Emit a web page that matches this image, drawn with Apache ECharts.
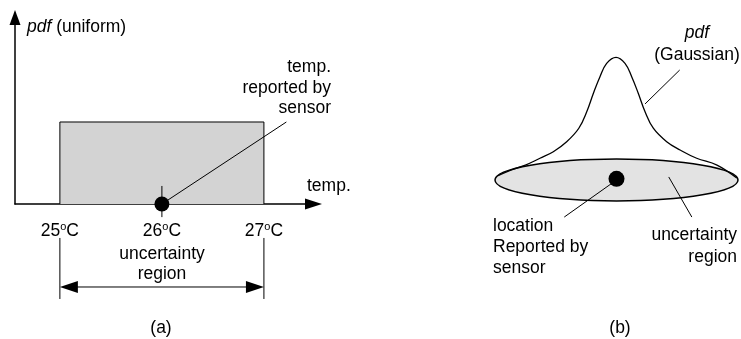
<!DOCTYPE html>
<html>
<head>
<meta charset="utf-8">
<script src="https://cdn.jsdelivr.net/npm/echarts@6/dist/echarts.min.js"></script>
<style>
  html, body { margin: 0; padding: 0; background: #fff; }
  #chart { width: 741px; height: 339px; }
</style>
</head>
<body>
<div id="chart"></div>
<script>
// ---- (a) uniform pdf over a 1-D temperature uncertainty region ----
const tempTicks = [25, 26, 27];
const uniformRange = [25, 27];            // °C
const uniformDensity = 0.5;               // 1 / (27 - 25)
const reportedTemp = 26;
const tempCallout = [[26, 0], [27.22, 0.5]];
// extent marker below the axis: from, to, extension top, extension bottom, arrow level
const extentMarker = [25, 27, -0.207, -0.579, -0.506];

// ---- (b) Gaussian pdf over a 2-D uncertainty region ----
const gaussX = [-0.98, -0.88, -0.75, -0.63, -0.52, -0.41, -0.31, -0.245, -0.19, -0.136, -0.081, -0.004,
                0.07, 0.125, 0.179, 0.235, 0.303, 0.413, 0.523, 0.66, 0.827, 0.99];
const gaussY = [0.033, 0.078, 0.123, 0.179, 0.233, 0.315, 0.426, 0.562, 0.714, 0.85, 0.96, 1.01,
                0.96, 0.85, 0.714, 0.562, 0.426, 0.315, 0.247, 0.179, 0.123, 0.016];
const regionEllipse = [0, 0, 1, 0.173];   // centre x, centre y, radius x, radius y
const reportedLocation = [0, 0.01];
const regionCallouts = [
  [[0, 0], [-0.43, -0.305]],
  [[0.43, 0.025], [0.62, -0.305]],
  [[0.52, 0.905], [0.235, 0.626]]
];

const FONT = "'Liberation Sans', Arial, Helvetica, sans-serif";
const FS = 17.5;
const INK = '#000';

const chart = echarts.init(document.getElementById('chart'), null, { renderer: 'canvas' });

const thinLine = (data, xi, extra) => Object.assign({
  type: 'line', xAxisIndex: xi, yAxisIndex: xi, data,
  symbol: 'none', silent: true, clip: false, z: 4,
  lineStyle: { color: INK, width: 1 }
}, extra || {});

const series = [
  // uniform pdf block
  {
    type: 'line', xAxisIndex: 0, yAxisIndex: 0, silent: true, symbol: 'none', z: 2,
    data: [[uniformRange[0], 0], [uniformRange[0], uniformDensity],
           [uniformRange[1], uniformDensity], [uniformRange[1], 0]],
    lineStyle: { color: INK, width: 1 },
    areaStyle: { color: '#d3d3d3', opacity: 1 }
  },
  thinLine(tempCallout, 0),
  // tick through the reported temperature
  thinLine([[reportedTemp, 0.11], [reportedTemp, -0.08]], 0),
  // extent of the uncertainty region with a double-headed arrow
  {
    type: 'custom', xAxisIndex: 0, yAxisIndex: 0, silent: true, clip: false, z: 4,
    data: [extentMarker],
    renderItem: (params, api) => {
      const a = api.coord([api.value(0), api.value(4)]);
      const b = api.coord([api.value(1), api.value(4)]);
      const top = api.coord([api.value(0), api.value(2)])[1];
      const bot = api.coord([api.value(0), api.value(3)])[1];
      const L = 18, H = 6;
      const stroke = { stroke: INK, lineWidth: 1, fill: null };
      return {
        type: 'group',
        children: [
          { type: 'line', shape: { x1: a[0], y1: top, x2: a[0], y2: bot }, style: stroke },
          { type: 'line', shape: { x1: b[0], y1: top, x2: b[0], y2: bot }, style: stroke },
          { type: 'line', shape: { x1: a[0] + L - 1, y1: a[1], x2: b[0] - L + 1, y2: b[1] }, style: stroke },
          { type: 'polygon', shape: { points: [[a[0], a[1]], [a[0] + L, a[1] - H], [a[0] + L, a[1] + H]] },
            style: { fill: INK } },
          { type: 'polygon', shape: { points: [[b[0], b[1]], [b[0] - L, b[1] - H], [b[0] - L, b[1] + H]] },
            style: { fill: INK } }
        ]
      };
    }
  },
  {
    type: 'scatter', xAxisIndex: 0, yAxisIndex: 0, silent: true, clip: false, z: 6,
    data: [[reportedTemp, 0]], symbolSize: 15, itemStyle: { color: INK, opacity: 1 }
  },

  // uncertainty ellipse
  {
    type: 'custom', xAxisIndex: 1, yAxisIndex: 1, silent: true, clip: false, z: 2,
    data: [regionEllipse],
    renderItem: (params, api) => {
      const c = api.coord([api.value(0), api.value(1)]);
      const s = api.size([api.value(2), api.value(3)]);
      return {
        type: 'ellipse',
        shape: { cx: c[0], cy: c[1], rx: s[0], ry: s[1] },
        style: { fill: '#e3e3e3', stroke: INK, lineWidth: 1.5 }
      };
    }
  },
  // Gaussian pdf
  {
    type: 'line', xAxisIndex: 1, yAxisIndex: 1, silent: true, symbol: 'none', clip: false, z: 3,
    smooth: 0.4,
    data: gaussX.map((x, i) => [x, gaussY[i]]),
    lineStyle: { color: INK, width: 1.3 }
  },
  ...regionCallouts.map(seg => thinLine(seg, 1)),
  {
    type: 'scatter', xAxisIndex: 1, yAxisIndex: 1, silent: true, clip: false, z: 6,
    data: [reportedLocation], symbolSize: 16, itemStyle: { color: INK, opacity: 1 }
  }
];

const txt = (x, y, text, align, extra) => ({
  type: 'text', x, y, silent: true, z: 10,
  style: Object.assign({
    text, fill: INK, fontFamily: FONT, fontSize: FS,
    align, verticalAlign: 'middle', lineHeight: 20.5
  }, extra || {})
});

const italicRich = {
  i: { fontStyle: 'italic', fontFamily: FONT, fontSize: FS, fill: INK, lineHeight: 21.5 },
  r: { fontFamily: FONT, fontSize: FS, fill: INK, lineHeight: 21.5 }
};

chart.setOption({
  animation: false,
  backgroundColor: '#fff',
  textStyle: { fontFamily: FONT },
  grid: [
    { left: 15, top: 17.5, width: 298.5, height: 186.5 },
    { left: 482.85, top: 34.2, width: 255.15, height: 194.4 }
  ],
  xAxis: [
    {
      type: 'value', gridIndex: 0, min: 24.56, max: 27.486,
      splitLine: { show: false }, axisTick: { show: false },
      axisLine: {
        onZero: false,
        lineStyle: { color: INK, width: 1.5 },
        symbol: ['none', 'triangle'], symbolSize: [11, 17]
      },
      axisLabel: {
        customValues: tempTicks, margin: 17, color: INK,
        formatter: v => '{n|' + v + '}{s|o}{n|C}',
        rich: {
          n: { fontSize: FS, fontFamily: FONT, color: INK, lineHeight: 20 },
          s: { fontSize: 11, fontFamily: FONT, color: INK, verticalAlign: 'top', lineHeight: 20 }
        }
      }
    },
    { type: 'value', gridIndex: 1, min: -1.1, max: 1.0, show: false }
  ],
  yAxis: [
    {
      type: 'value', gridIndex: 0, min: 0, max: 1.137,
      splitLine: { show: false }, axisTick: { show: false }, axisLabel: { show: false },
      axisLine: {
        lineStyle: { color: INK, width: 1.5 },
        symbol: ['none', 'triangle'], symbolSize: [11, 15]
      }
    },
    { type: 'value', gridIndex: 1, min: -0.4, max: 1.2, show: false }
  ],
  series,
  graphic: [
    txt(27, 27, '{i|pdf}{r| (uniform)}', 'left', { rich: italicRich }),
    txt(307, 186, 'temp.', 'left'),
    txt(331, 88, 'temp.\nreported by\nsensor', 'right'),
    txt(162, 264, 'uncertainty\nregion', 'center'),
    txt(161, 328, '(a)', 'center'),
    txt(697, 44, '{i|pdf}\n{r|(Gaussian)}', 'center', { rich: italicRich }),
    txt(493, 247, 'location\nReported by\nsensor', 'left', { lineHeight: 21 }),
    txt(737, 246, 'uncertainty\nregion', 'right', { lineHeight: 21.5 }),
    txt(620, 328, '(b)', 'center')
  ]
});
</script>
</body>
</html>
